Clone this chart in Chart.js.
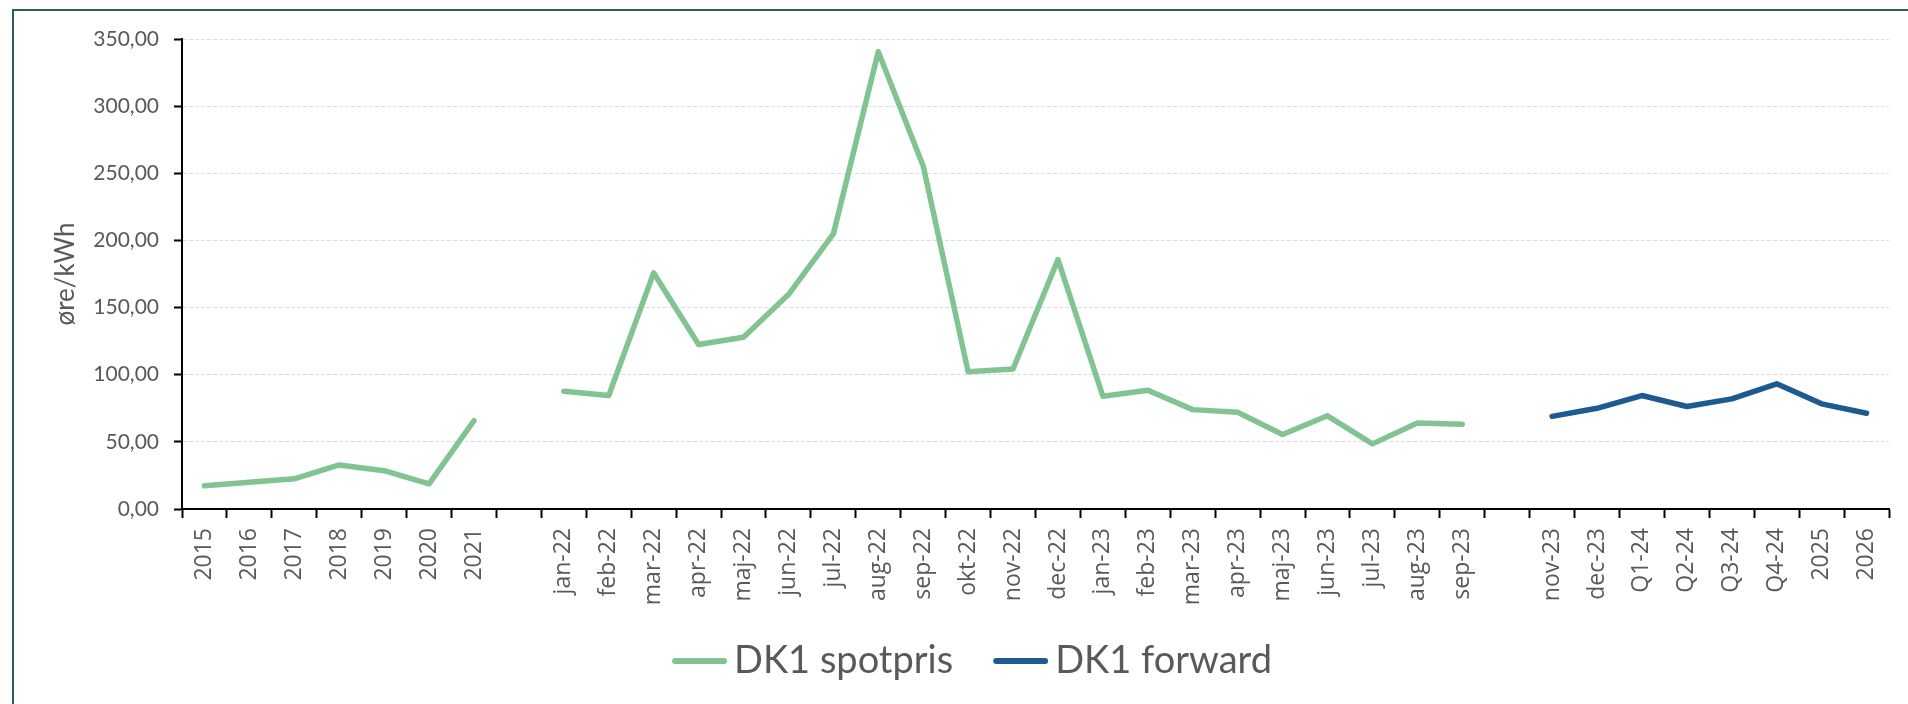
<!DOCTYPE html>
<html>
<head>
<meta charset="utf-8">
<script src="https://cdn.jsdelivr.net/npm/chart.js@4.4.1/dist/chart.umd.min.js"></script>
<style>
  html, body { margin: 0; padding: 0; background: #ffffff; }
  #wrap { position: absolute; left: 0; top: 0; width: 1908px; height: 704px; overflow: hidden; }
  #frame { position: absolute; left: 12px; top: 9px; width: 2000px; height: 1000px;
           border-left: 2px solid #2E5B5D; border-top: 2px solid #2E5B5D; }
  canvas { position: absolute; left: 0; top: 0; }
</style>
</head>
<body>
<div id="wrap">
  <div id="frame"></div>
  <canvas id="c" width="1908" height="704"></canvas>
</div>
<script>
// Category labels ('' = empty gap category)
const categories = [
  '2015','2016','2017','2018','2019','2020','2021','',
  'jan-22','feb-22','mar-22','apr-22','maj-22','jun-22','jul-22','aug-22','sep-22','okt-22','nov-22','dec-22',
  'jan-23','feb-23','mar-23','apr-23','maj-23','jun-23','jul-23','aug-23','sep-23','',
  'nov-23','dec-23','Q1-24','Q2-24','Q3-24','Q4-24','2025','2026'
];

// DK1 spotpris (øre/kWh)
const spotValues = [
  17.3, 20.0, 22.5, 32.8, 28.5, 18.7, 65.8, null,
  87.7, 84.5, 175.8, 122.5, 127.9, 159.7, 204.8, 340.5, 255.5, 102.2, 104.3, 185.7,
  84.0, 88.5, 74.0, 72.0, 55.5, 69.4, 48.5, 64.0, 63.2, null,
  null, null, null, null, null, null, null, null
];

// DK1 forward (øre/kWh)
const forwardValues = [
  null, null, null, null, null, null, null, null,
  null, null, null, null, null, null, null, null, null, null, null, null,
  null, null, null, null, null, null, null, null, null, null,
  69.0, 75.0, 84.5, 76.3, 82.0, 93.2, 78.3, 71.3
];

const yTicks = { min: 0, max: 350, step: 50 };
const seriesNames = ['DK1 spotpris', 'DK1 forward'];
const yTitle = 'øre/kWh';

const GREEN = '#82C491';
const BLUE = '#1D5A8F';
const TXT = '#595959';

// legend line sample: transparent left part, 55px rounded stroke on the right
function legendLine(color) {
  const cv = document.createElement('canvas');
  cv.width = 74; cv.height = 10;
  const g = cv.getContext('2d');
  g.strokeStyle = color; g.lineWidth = 6; g.lineCap = 'round';
  g.beginPath(); g.moveTo(22, 5); g.lineTo(71, 5); g.stroke();
  return cv;
}

const legendShift = {
  id: 'legendShift',
  afterLayout(chart) { if (chart.legend) { chart.legend.left += 28; } }
};

new Chart(document.getElementById('c'), {
  type: 'line',
  data: {
    labels: categories,
    datasets: [
      { label: seriesNames[0], data: spotValues, borderColor: GREEN, backgroundColor: GREEN,
        borderWidth: 5.5, pointRadius: 0, pointHoverRadius: 0, spanGaps: false, tension: 0,
        borderCapStyle: 'round', borderJoinStyle: 'round', pointStyle: legendLine(GREEN) },
      { label: seriesNames[1], data: forwardValues, borderColor: BLUE, backgroundColor: BLUE,
        borderWidth: 5.5, pointRadius: 0, pointHoverRadius: 0, spanGaps: false, tension: 0,
        borderCapStyle: 'round', borderJoinStyle: 'round', pointStyle: legendLine(BLUE) }
    ]
  },
  plugins: [legendShift],
  options: {
    responsive: false,
    animation: false,
    events: [],
    layout: { padding: { left: 20, right: 19, top: 39, bottom: 14 } },
    plugins: {
      tooltip: { enabled: false },
      legend: {
        position: 'bottom',
        labels: {
          usePointStyle: true,
          pointStyleWidth: 50,
          padding: 33,
          color: TXT,
          font: { family: 'Lato', size: 38 }
        }
      }
    },
    scales: {
      x: {
        type: 'category',
        offset: true,
        grid: { display: true, drawOnChartArea: false, offset: true, drawTicks: true,
                tickLength: 9, tickWidth: 2, tickColor: '#000000' },
        border: { display: true, color: '#000000', width: 2 },
        ticks: { autoSkip: false, minRotation: 90, maxRotation: 90, padding: 10,
                 color: TXT, font: { family: 'Open Sans', size: 23 } },
        afterFit: (s) => { s.height = 100; }
      },
      y: {
        min: yTicks.min, max: yTicks.max,
        grid: { color: '#DDDDDD', lineWidth: 1, drawTicks: true, tickLength: 8, tickWidth: 2,
                tickColor: '#000000', tickBorderDash: [] },
        border: { display: true, color: '#000000', width: 2, dash: [4, 2] },
        ticks: { stepSize: yTicks.step, padding: 15, color: TXT,
                 font: { family: 'Lato', size: 21 },
                 callback: (v) => Number(v).toFixed(2).replace('.', ',') },
        title: { display: true, text: yTitle, color: TXT, font: { family: 'Lato', size: 26 },
                 padding: { top: 30, bottom: 0 } },
        afterFit: (s) => { s.width = 162; }
      }
    }
  }
});
</script>
</body>
</html>
